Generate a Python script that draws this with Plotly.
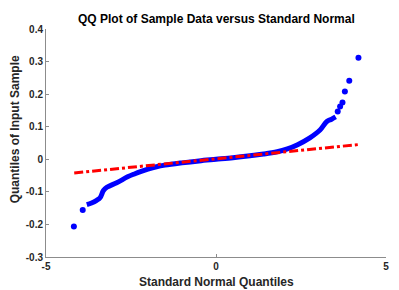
import plotly.graph_objects as go

# Tail samples (isolated points)
tail_x = [-4.18, -3.92, 3.58, 3.65, 3.72, 3.79, 3.92, 4.19]
tail_y = [-0.206, -0.156, 0.147, 0.162, 0.174, 0.208, 0.241, 0.312]

# Dense body of the sample quantiles
body_x = [-3.80, -3.66, -3.51, -3.41, -3.31, -3.21, -2.92, -2.60, -2.40, -2.20, -2.00,
          -1.75, -1.50, -1.00, -0.50, 0.00, 0.50, 1.00, 1.40, 1.80, 2.10, 2.40, 2.76,
          3.06, 3.26, 3.40, 3.52]
body_y = [-0.139, -0.134, -0.126, -0.118, -0.096, -0.086, -0.072, -0.054, -0.045, -0.037, -0.030,
          -0.023, -0.018, -0.011, -0.005, 0.000, 0.005, 0.011, 0.016, 0.023, 0.032, 0.045, 0.066,
          0.090, 0.116, 0.123, 0.130]

# Reference line (fit through quartiles)
ref_x = [-4.17, 4.17]
ref_y = [-0.042, 0.045]

x_ticks = [-5, 0, 5]
x_labels = ["<b>-5</b>", "<b>0</b>", "<b>5</b>"]
y_ticks = [-0.3, -0.2, -0.1, 0, 0.1, 0.2, 0.3, 0.4]
y_labels = ["<b>%s</b>" % s for s in ["-0.3", "-0.2", "-0.1", "0", "0.1", "0.2", "0.3", "0.4"]]

font = "Liberation Sans, Arial, sans-serif"
blue = "#0000ff"

fig = go.Figure()
fig.add_trace(go.Scatter(x=body_x, y=body_y, mode="lines",
                         line=dict(color=blue, width=5, shape="spline"),
                         hoverinfo="skip"))
fig.add_trace(go.Scatter(x=tail_x, y=tail_y, mode="markers",
                         marker=dict(color=blue, size=6)))
fig.add_trace(go.Scatter(x=ref_x, y=ref_y, mode="lines",
                         line=dict(color="#ff0000", width=3, dash="9px,3px,3px,3px")))

axis_common = dict(showgrid=False, zeroline=False, showline=True, linecolor="#8c8c8c",
                   linewidth=1, ticks="inside", ticklen=3, tickcolor="#8c8c8c",
                   automargin=False,
                   tickfont=dict(family=font, size=10, color="#262626"))

fig.update_xaxes(range=[-5, 5], tickvals=x_ticks, ticktext=x_labels, **axis_common)
fig.update_yaxes(range=[-0.3, 0.4], tickvals=y_ticks, ticktext=y_labels, **axis_common)

title_font = dict(family=font, size=12, color="#262626")
fig.update_layout(
    width=399, height=290,
    margin=dict(l=46, r=13, t=29, b=33),
    plot_bgcolor="white", paper_bgcolor="white",
    showlegend=False,
    annotations=[
        dict(text="<b>QQ Plot of Sample Data versus Standard Normal</b>",
             xref="paper", yref="paper", x=0.5, y=1.0, yshift=1,
             xanchor="center", yanchor="bottom", showarrow=False,
             font=dict(family=font, size=12, color="#000000")),
        dict(text="<b>Standard Normal Quantiles</b>",
             xref="paper", yref="paper", x=0.5, y=0, yshift=-16,
             xanchor="center", yanchor="top", showarrow=False, font=title_font),
        dict(text="<b>Quantiles of Input Sample</b>",
             xref="paper", yref="paper", x=0, xshift=-31, y=0.56,
             xanchor="center", yanchor="middle", textangle=-90,
             showarrow=False, font=title_font),
    ],
)

# drop the page's default body margin so the figure sits at the window corner
fig.write_html("out.html", config={"displayModeBar": False},
               post_script="document.body.style.margin='0px';")
